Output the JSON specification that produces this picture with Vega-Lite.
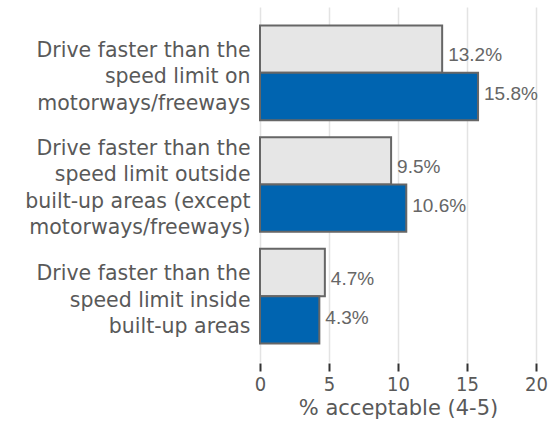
{
  "$schema": "https://vega.github.io/schema/vega-lite/v6.json",
  "width": 276,
  "height": 355,
  "autosize": "none",
  "padding": {"left": 260, "top": 7, "right": 13, "bottom": 66},
  "background": "white",
  "config": {
    "font": "DejaVu Sans",
    "view": {"stroke": null}
  },
  "data": {
    "values": [
      {"item": "Drive faster than the |speed limit on |motorways/freeways", "series": "Series 1", "value": 13.2, "label": "13.2%"},
      {"item": "Drive faster than the |speed limit on |motorways/freeways", "series": "Series 2", "value": 15.8, "label": "15.8%"},
      {"item": "Drive faster than the |speed limit outside |built-up areas (except |motorways/freeways)", "series": "Series 1", "value": 9.5, "label": "9.5%"},
      {"item": "Drive faster than the |speed limit outside |built-up areas (except |motorways/freeways)", "series": "Series 2", "value": 10.6, "label": "10.6%"},
      {"item": "Drive faster than the |speed limit inside |built-up areas", "series": "Series 1", "value": 4.7, "label": "4.7%"},
      {"item": "Drive faster than the |speed limit inside |built-up areas", "series": "Series 2", "value": 4.3, "label": "4.3%"}
    ]
  },
  "encoding": {
    "y": {
      "field": "item",
      "type": "nominal",
      "sort": null,
      "scale": {"paddingInner": 0.152, "paddingOuter": 0.165},
      "axis": {
        "title": null,
        "domain": false,
        "ticks": false,
        "labelExpr": "split(datum.label, '|')",
        "labelFont": "DejaVu Sans",
        "labelFontSize": 20.5,
        "labelColor": "#595959",
        "labelPadding": 10,
        "labelLineHeight": 26.5,
        "labelLimit": 300,
        "labelBaseline": "middle",
        "labelOffset": {"condition": {"test": "indexof(datum.value, 'except') >= 0", "value": -36}, "value": -22}
      }
    },
    "yOffset": {"field": "series", "type": "nominal", "sort": ["Series 1", "Series 2"]},
    "x": {
      "field": "value",
      "type": "quantitative",
      "scale": {"domain": [0, 20]},
      "axis": {
        "title": "% acceptable (4-5)",
        "values": [0, 5, 10, 15, 20],
        "domain": false,
        "offset": 1,
        "tickColor": "#333333",
        "tickWidth": 2,
        "tickSize": 8,
        "gridColor": "#e3e3e3",
        "gridWidth": 1.5,
        "labelFont": "DejaVu Sans Condensed",
        "labelFontSize": 20,
        "labelColor": "#595959",
        "labelPadding": 3,
        "labelFlush": false,
        "titleFont": "DejaVu Sans",
        "titleFontSize": 21,
        "titleFontWeight": "normal",
        "titleColor": "#595959",
        "titlePadding": 3
      }
    }
  },
  "layer": [
    {
      "mark": {"type": "bar", "stroke": "#666666", "strokeWidth": 2},
      "encoding": {
        "color": {
          "field": "series",
          "type": "nominal",
          "scale": {"domain": ["Series 1", "Series 2"], "range": ["#e6e6e6", "#0064b0"]},
          "legend": null
        }
      }
    },
    {
      "transform": [{"filter": "datum.series === 'Series 1'"}],
      "mark": {"type": "text", "align": "left", "dx": 6, "dy": 6, "font": "Liberation Sans", "fontSize": 19, "color": "#666666"},
      "encoding": {
        "text": {"field": "label"}
      }
    },
    {
      "transform": [{"filter": "datum.series === 'Series 2'"}],
      "mark": {"type": "text", "align": "left", "dx": 6, "dy": -2, "font": "Liberation Sans", "fontSize": 19, "color": "#666666"},
      "encoding": {
        "text": {"field": "label"}
      }
    }
  ]
}
